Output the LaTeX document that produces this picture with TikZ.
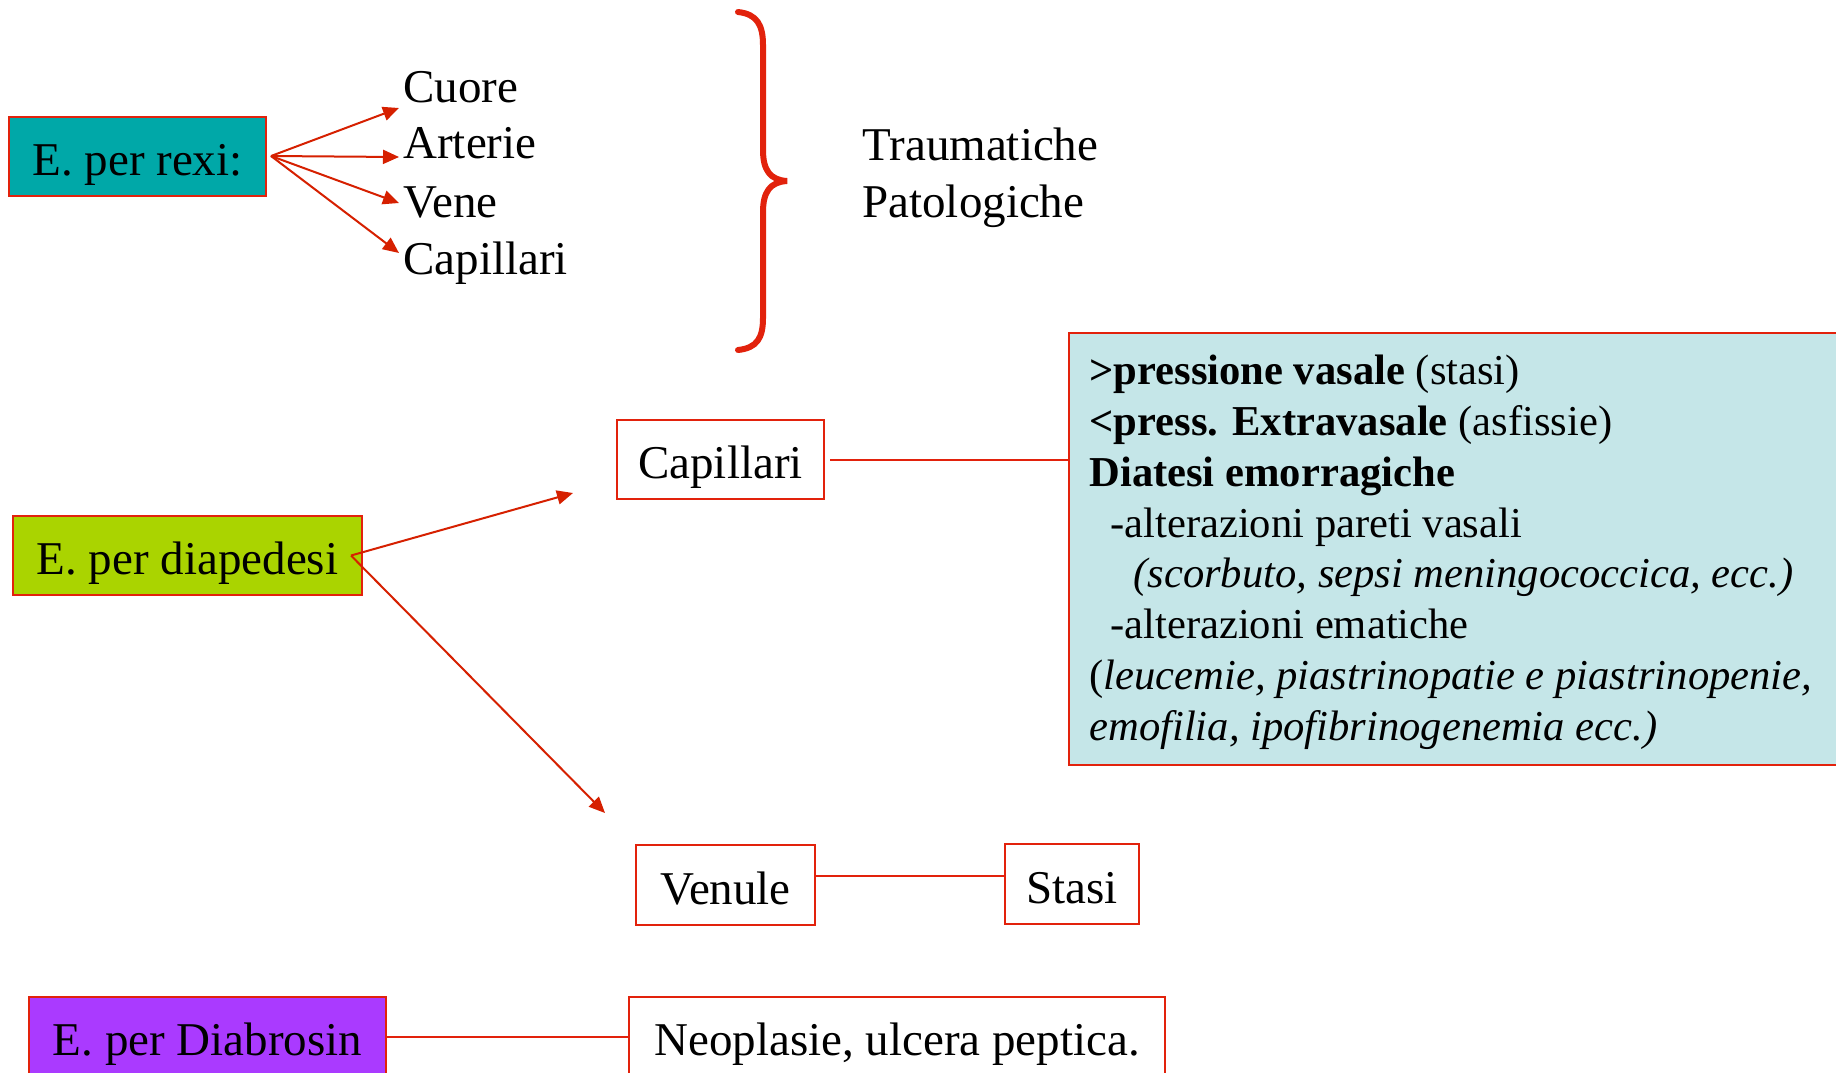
\documentclass[tikz,border=0pt]{standalone}
\usepackage{fontspec}
\setmainfont{Liberation Serif}
\usetikzlibrary{arrows.meta}
\definecolor{bred}{RGB}{226,34,12}
\definecolor{ared}{RGB}{214,32,0}
\definecolor{tealbox}{RGB}{0,168,168}
\definecolor{greenbox}{RGB}{170,212,0}
\definecolor{purplebox}{RGB}{170,58,255}
\definecolor{bluebox}{RGB}{197,230,232}
\begin{document}
\begin{tikzpicture}[x=0.5pt,y=-0.5pt,
  box/.style={draw=bred,line width=1pt,inner sep=0pt,text height=19pt,text depth=0pt,
    font=\fontsize{23.5pt}{28pt}\selectfont},
  arr/.style={draw=ared,line width=1pt,-{Triangle[length=8pt,width=7pt]}},
  conn/.style={draw=bred,line width=1pt},
  lbl/.style={anchor=base west,inner sep=0pt,font=\fontsize{23.5pt}{28pt}\selectfont},
  btxt/.style={anchor=base west,inner sep=0pt,font=\fontsize{21.3pt}{25pt}\selectfont}]
\fill[white] (0,0) rectangle (1836,1072);
\clip (0,0) rectangle (1836,1072);

% E. per rexi
\node[box,fill=tealbox,minimum width=128.5pt,minimum height=39.5pt] (rexi) at (137.5,156) {E. per rexi:};
\coordinate (rs) at ([xshift=2pt]rexi.east);
\coordinate (t1) at (399,108);
\coordinate (t2) at (399,157);
\coordinate (t3) at (399,203);
\coordinate (t4) at (399,253);
\draw[arr] (rs) -- (t1);
\draw[arr] (rs) -- (t2);
\draw[arr] (rs) -- (t3);
\draw[arr] (rs) -- (t4);
\node[lbl] (cuore) at (403,102.5) {Cuore};
\node[lbl] (arterie) at (403,158.5) {Arterie};
\node[lbl] (vene) at (403,217.5) {Vene};
\node[lbl] (capl) at (403,274) {Capillari};

% brace
\draw[bred,line width=3pt,line cap=round]
  (738,12) .. controls (757,14) and (763,25) .. (763,45) -- (763,150)
  .. controls (763,170) and (770,180) .. (787,181)
  .. controls (770,182) and (763,192) .. (763,212) -- (763,318)
  .. controls (763,338) and (757,348) .. (738,350);
\node[lbl] (trau) at (862,160) {Traumatiche};
\node[lbl] (pato) at (862,217) {Patologiche};

% E. per diapedesi
\node[box,fill=greenbox,minimum width=174.5pt,minimum height=39.5pt] (diap) at (187.5,555.5) {E. per diapedesi};
\coordinate (ds) at ([xshift=-6pt]diap.east);
\coordinate (dt1) at (573,493);
\coordinate (dt2) at (605,813);
\draw[arr] (ds) -- (dt1);
\draw[arr] (ds) -- (dt2);

\node[box,fill=white,minimum width=103.5pt,minimum height=39.5pt] (cap) at (720.5,459.5) {Capillari};
\node[draw=bred,fill=bluebox,line width=1pt,inner sep=0pt,minimum width=390.5pt,minimum height=216pt] (big) at (1459.5,549) {};
\draw[conn] ([xshift=2.5pt]cap.east) -- (cap.east -| big.west);

\node[btxt] (l1) at (1089,384) {\textbf{>pressione vasale} (stasi)};
\node[btxt] (l2) at (1089,435) {\textbf{<press. Extravasale} (asfissie)};
\node[btxt] (l3) at (1089,486) {\textbf{Diatesi emorragiche}};
\node[btxt] (l4) at (1110,537) {-alterazioni pareti vasali};
\node[btxt] (l5) at (1133,587.5) {\textit{(scorbuto, sepsi meningococcica, ecc.)}};
\node[btxt] (l6) at (1110,638.5) {-alterazioni ematiche};
\node[btxt] (l7) at (1089,689.5) {(\textit{leucemie, piastrinopatie e piastrinopenie,}};
\node[btxt] (l8) at (1089,740) {\textit{emofilia, ipofibrinogenemia ecc.)}};

% Venule / Stasi
\node[box,fill=white,minimum width=89.5pt,minimum height=40pt] (ven) at (725.5,885) {Venule};
\node[box,fill=white,minimum width=67pt,minimum height=40pt] (stasi) at (1072,884) {Stasi};
\coordinate (vs) at ([yshift=4.5pt]ven.east);
\draw[conn] (vs) -- (vs -| stasi.west);

% E. per Diabrosin
\node[box,fill=purplebox,minimum width=178.5pt,minimum height=39.5pt] (diab) at (207.5,1036.5) {E. per Diabrosin};
\node[box,fill=white,minimum width=268pt,minimum height=39.5pt] (neo) at (897,1036.5) {Neoplasie, ulcera peptica.};
\draw[conn] (diab.east) -- (neo.west);
\end{tikzpicture}
\end{document}
